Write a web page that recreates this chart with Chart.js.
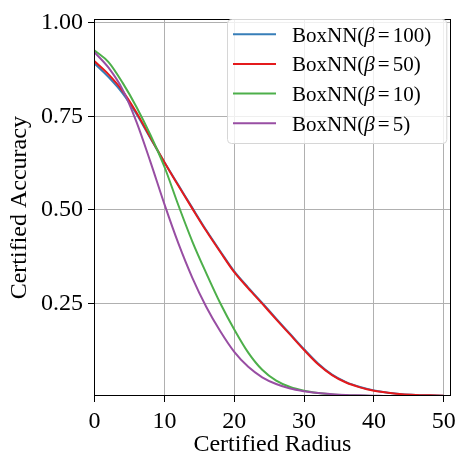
<!DOCTYPE html>
<html>
<head>
<meta charset="utf-8">
<script src="https://cdn.jsdelivr.net/npm/chart.js@4"></script>
<style>
  html, body { margin: 0; padding: 0; background: #fff; }
  #wrap { width: 461px; height: 454px; }
</style>
</head>
<body>
<div id="wrap"><canvas id="c" width="461" height="454"></canvas></div>
<script>
const radius = [0,2,4,6,8,10,12,14,16,18,20,22,24,26,28,30,32,34,36,38,40,42,44,46,48,50];
const beta100 = [0.891,0.855,0.812,0.756,0.691,0.627,0.566,0.505,0.445,0.389,0.335,0.292,0.251,0.209,0.168,0.127,0.089,0.059,0.039,0.026,0.017,0.011,0.007,0.005,0.004,0.003];
const beta50  = [0.897,0.862,0.818,0.760,0.693,0.627,0.564,0.503,0.443,0.387,0.333,0.290,0.249,0.207,0.166,0.125,0.087,0.058,0.038,0.025,0.016,0.011,0.007,0.005,0.004,0.003];
const beta10  = [0.926,0.895,0.840,0.775,0.700,0.615,0.512,0.415,0.330,0.250,0.180,0.118,0.072,0.043,0.026,0.016,0.010,0.006,0.004,0.003,0.002,0.002,0.001,0.001,0.001,0.001];
const beta5   = [0.921,0.880,0.822,0.735,0.628,0.515,0.410,0.318,0.240,0.175,0.120,0.080,0.052,0.034,0.022,0.015,0.010,0.007,0.005,0.004,0.003,0.002,0.002,0.001,0.001,0.001];
const seriesLabels = ['BoxNN(β = 100)','BoxNN(β = 50)','BoxNN(β = 10)','BoxNN(β = 5)'];
const seriesColors = ['#377eb8','#e41a1c','#4daf4a','#984ea3'];
const xTicks = [0,10,20,30,40,50];
const yTicks = [0.25,0.50,0.75,1.00];

const SERIF = '"Liberation Serif", "Times New Roman", serif';

function pts(vals){ return radius.map((r,i)=>({x:r,y:vals[i]})); }
const allSeries = [beta100, beta50, beta10, beta5];

const frame = {
  id: 'frame',
  afterDatasetsDraw(chart){
    const {ctx, chartArea:a} = chart;
    ctx.save();
    ctx.strokeStyle = '#000';
    ctx.lineWidth = 1;
    ctx.strokeRect(Math.round(a.left)+0.5, Math.round(a.top)+0.5, Math.round(a.right-a.left)-1, Math.round(a.bottom-a.top)-1);
    ctx.restore();
  }
};

function roundRect(ctx,x,y,w,h,r){
  ctx.beginPath();
  ctx.moveTo(x+r,y);
  ctx.lineTo(x+w-r,y); ctx.quadraticCurveTo(x+w,y,x+w,y+r);
  ctx.lineTo(x+w,y+h-r); ctx.quadraticCurveTo(x+w,y+h,x+w-r,y+h);
  ctx.lineTo(x+r,y+h); ctx.quadraticCurveTo(x,y+h,x,y+h-r);
  ctx.lineTo(x,y+r); ctx.quadraticCurveTo(x,y,x+r,y);
  ctx.closePath();
}

const legend = {
  id: 'boxLegend',
  afterDraw(chart){
    const ctx = chart.ctx;
    const a = chart.chartArea;
    const bx = 227.5, by = 19.5, bw = a.right - 4 - bx, bh = 124;
    ctx.save();
    roundRect(ctx,bx,by,bw,bh,4);
    ctx.fillStyle = 'rgba(255,255,255,0.8)';
    ctx.fill();
    ctx.strokeStyle = '#d6d6d6';
    ctx.lineWidth = 1;
    ctx.stroke();
    const fs = 21;
    chart.data.datasets.forEach((ds,i)=>{
      const base = 41.7 + i*29.7;
      const ly = base - 7.5;
      ctx.strokeStyle = ds.borderColor;
      ctx.lineWidth = 2;
      ctx.beginPath(); ctx.moveTo(233, ly); ctx.lineTo(276, ly); ctx.stroke();
      const label = ds.label;
      const bi = label.indexOf('β');
      const pre = label.slice(0,bi);
      const post = label.slice(bi+1).replace(/\s*=\s*/, '');
      ctx.fillStyle = '#000';
      ctx.textBaseline = 'alphabetic';
      ctx.textAlign = 'left';
      let x = 292;
      ctx.font = fs + 'px ' + SERIF;
      ctx.fillText(pre, x, base); x += ctx.measureText(pre).width;
      ctx.font = 'italic ' + fs + 'px ' + SERIF;
      ctx.fillText('β', x, base); x += ctx.measureText('β').width + 3;
      ctx.font = fs + 'px ' + SERIF;
      ctx.fillText('=', x, base); x += ctx.measureText('=').width + 3;
      ctx.fillText(post, x, base);
    });
    ctx.restore();
  }
};

new Chart(document.getElementById('c'), {
  type: 'line',
  data: {
    datasets: allSeries.map((s,i)=>({
      label: seriesLabels[i],
      data: pts(s),
      borderColor: seriesColors[i],
      backgroundColor: seriesColors[i],
      borderWidth: 2,
      pointRadius: 0,
      fill: false,
      order: allSeries.length - 1 - i,
      cubicInterpolationMode: 'monotone'
    }))
  },
  options: {
    responsive: false,
    animation: false,
    devicePixelRatio: 1,
    layout: { padding: { top: 16, right: 9, left: 0, bottom: 0 } },
    plugins: { legend: { display: false }, tooltip: { enabled: false } },
    scales: {
      x: {
        type: 'linear',
        min: -0.08, max: 51,
        afterFit(s){ s.height = 58; },
        afterBuildTicks(s){ s.ticks = xTicks.map(v=>({value:v})); },
        border: { display: false },
        grid: { color: '#b0b0b0', lineWidth: 1, drawTicks: true, tickLength: 6, tickColor: '#000', tickWidth: 1 },
        ticks: { color: '#000', font: { family: SERIF, size: 24 }, padding: 5, maxRotation: 0,
                 callback: v => String(v) },
        title: { display: true, text: 'Certified Radius', color: '#000',
                 font: { family: SERIF, size: 24, lineHeight: 1.0 }, padding: { top: 0, bottom: -3 } }
      },
      y: {
        type: 'linear',
        min: 0.002, max: 1.009,
        afterFit(s){ s.width = 94; },
        afterBuildTicks(s){ s.ticks = yTicks.map(v=>({value:v})); },
        border: { display: false },
        grid: { color: '#b0b0b0', lineWidth: 1, drawTicks: true, tickLength: 6, tickColor: '#000', tickWidth: 1 },
        ticks: { color: '#000', font: { family: SERIF, size: 24 }, padding: 5,
                 callback: v => Number(v).toFixed(2) },
        title: { display: true, text: 'Certified Accuracy', color: '#000',
                 font: { family: SERIF, size: 24, lineHeight: 1.0 }, padding: { top: 8, bottom: 0 } }
      }
    }
  },
  plugins: [frame, legend]
});
</script>
</body>
</html>
